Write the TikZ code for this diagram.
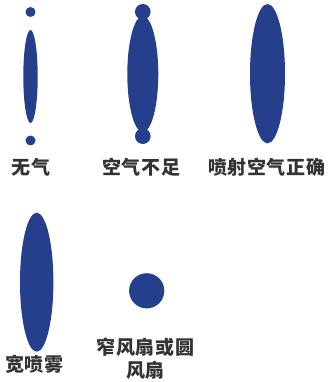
\documentclass[tikz,border=0pt]{standalone}
\usepackage{fontspec}
\newfontfamily\cjk{Noto Sans CJK SC}[LetterSpace=3]
\definecolor{sprayblue}{HTML}{263F8C}
\definecolor{labelgray}{HTML}{333333}

\begin{document}
\begin{tikzpicture}[x=1pt,y=-1pt,
  spray/.style={fill=sprayblue},
  lbl/.style={text=labelgray,inner sep=0pt,align=center,
    font=\cjk\bfseries\fontsize{19}{23.3}\selectfont}]
\useasboundingbox (0,0) rectangle (330,382);
% no air: thin core with two loose dots
\fill[spray] (30.5,12) circle (5pt);
\fill[spray] (30.5,76.5) ellipse [x radius=7.2pt,y radius=46.5pt];
\fill[spray] (30.5,140.5) circle (5pt);
\node[lbl] (noair) at (31,167.5) {无气};
% too little air: fat core with heavy ends
\fill[spray] (142.8,74) ellipse [x radius=15.5pt,y radius=58pt];
\fill[spray] (142.8,11.8) circle (7.8pt);
\fill[spray] (142.8,136.2) circle (7.8pt);
\node[lbl] (lowair) at (141.3,167.5) {空气不足};
% correct spray air
\fill[spray] (267.5,73.7) ellipse [x radius=17.5pt,y radius=69.7pt];
\node[lbl] (okair) at (266.7,167.5) {喷射空气正确};
% wide spray
\fill[spray] (36.7,282.2) ellipse [x radius=16.7pt,y radius=69.5pt];
\node[lbl] (wide) at (34.2,364) {宽喷雾};
% narrow or round fan
\fill[spray] (146.7,290.8) circle (17.6pt);
\node[lbl] (round) at (145.5,358.7) {窄风扇或圆\\风扇};
\end{tikzpicture}
\end{document}
